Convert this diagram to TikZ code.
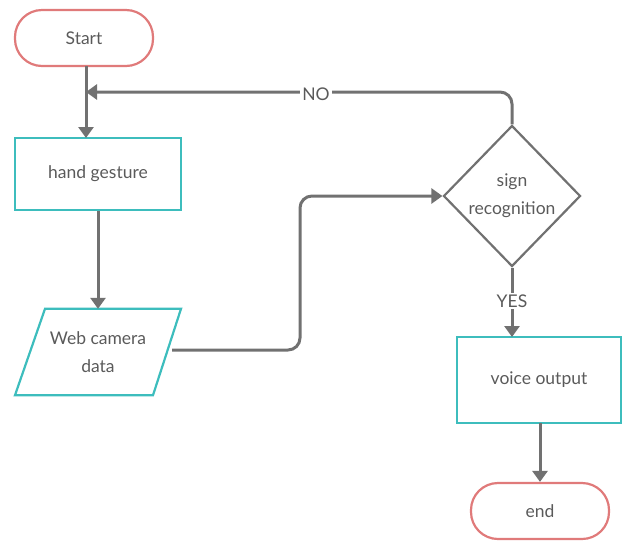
\documentclass[tikz,border=0pt]{standalone}
\usepackage{fontspec}
\setmainfont{Lato}
\usetikzlibrary{shapes.geometric,arrows.meta}
\definecolor{pinkline}{HTML}{E07A7A}
\definecolor{tealline}{HTML}{3DBDBD}
\definecolor{conn}{HTML}{717171}
\definecolor{txt}{HTML}{5A5A5A}
\tikzset{
  base/.style={font=\fontsize{17.5}{28}\selectfont, text=txt, align=center},
  term/.style={base, draw=pinkline, line width=2.2pt, rounded corners=27pt, minimum width=138pt, minimum height=56pt},
  proc/.style={base, draw=tealline, line width=2.2pt, minimum width=166pt, minimum height=72pt},
  dec/.style={base, draw=conn, line width=2.2pt, diamond, minimum width=137pt, minimum height=141pt, inner sep=0pt},
  io/.style={base, minimum width=138pt, minimum height=86pt},
  arr/.style={draw=conn, line width=3pt, -{Triangle[length=11pt,width=15pt]}},
  lbl/.style={base, fill=white, inner sep=2pt}
}
\begin{document}
\begin{tikzpicture}[x=1pt,y=-1pt]
\useasboundingbox (0,0) rectangle (623,542);
\node[term] (start) at (84,38) {Start};
\node[proc] (hand) at (98,174) {hand gesture};
\node[io] (web) at (98,352) {Web camera\\data};
\draw[tealline, line width=2.2pt] ([xshift=-53pt]web.north) -- ([xshift=83pt]web.north) -- ([xshift=55pt]web.south) -- ([xshift=-83pt]web.south) -- cycle;
\node[dec] (sign) at (512,196) {sign\\recognition};
\node[proc, minimum width=164pt, minimum height=86pt] (voice) at (539,380) {voice output};
\node[term] (end) at (540,511) {end};
\coordinate (s1) at (86,66);
\coordinate (h1) at (86,138);
\draw[arr] (s1) -- (h1);
\coordinate (nocorner) at (512,92);
\coordinate (noend) at (86,92);
\draw[arr, rounded corners=12pt] (sign.north) -- (nocorner) -- (noend);
\node[lbl] (no) at (316,94) {NO};
\draw[arr] (hand.south) -- (web.north);
\coordinate (w1) at (172,350);
\coordinate (c1) at (300,350);
\coordinate (c2) at (300,196);
\draw[arr, rounded corners=12pt] (w1) -- (c1) -- (c2) -- (sign.west);
\coordinate (v1) at (512,337);
\draw[arr] (sign.south) -- (v1);
\node[lbl] (yes) at (512,301) {YES};
\coordinate (v2) at (540,423);
\draw[arr] (v2) -- (end.north);
\end{tikzpicture}
\end{document}
